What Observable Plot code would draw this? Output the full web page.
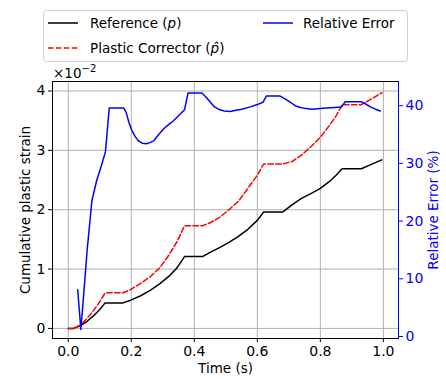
<!DOCTYPE html>
<html><head><meta charset="utf-8">
<script src="https://cdn.jsdelivr.net/npm/d3@7"></script>
<script src="https://cdn.jsdelivr.net/npm/@observablehq/plot@0.6"></script>
<style>
body{margin:0;background:#fff;font-family:"DejaVu Sans",sans-serif;}
#wrap{position:relative;width:446px;height:381px;overflow:hidden;}
#legend{position:absolute;left:43px;top:10px;}
#expo{position:absolute;left:50px;top:62px;}
</style></head>
<body>
<div id="wrap"></div>
<script>
// ---- data (strain values in absolute units; error in %) ----
const time = [0, 0.017, 0.04, 0.06, 0.08, 0.10, 0.117, 0.174, 0.20, 0.23, 0.26, 0.29, 0.32, 0.345, 0.369, 0.426, 0.45, 0.48, 0.51, 0.54, 0.57, 0.60, 0.62, 0.68, 0.71, 0.74, 0.77, 0.80, 0.83, 0.85, 0.869, 0.93, 0.96, 0.995];
const refStrain = [0, 0, 0.0005, 0.0012, 0.0021, 0.0032, 0.0043, 0.0043, 0.0048, 0.0055, 0.0064, 0.0075, 0.0088, 0.0102, 0.0121, 0.0121, 0.0128, 0.0136, 0.0145, 0.0155, 0.0167, 0.0182, 0.0196, 0.0196, 0.0208, 0.0219, 0.0227, 0.0236, 0.0248, 0.0258, 0.0269, 0.0269, 0.0276, 0.0284];
const corrStrain = [0, 0, 0.0006, 0.0017, 0.0030, 0.0045, 0.0060, 0.0060, 0.0066, 0.0076, 0.0087, 0.0102, 0.0124, 0.0146, 0.0173, 0.0173, 0.0178, 0.0187, 0.0200, 0.0214, 0.0236, 0.0258, 0.0277, 0.0277, 0.0281, 0.0292, 0.0306, 0.0322, 0.0343, 0.0358, 0.0377, 0.0377, 0.0386, 0.0397];
const errTime = [0.03, 0.04, 0.05, 0.06, 0.075, 0.09, 0.105, 0.118, 0.13, 0.176, 0.184, 0.193, 0.202, 0.213, 0.223, 0.235, 0.247, 0.259, 0.271, 0.287, 0.303, 0.32, 0.334, 0.352, 0.369, 0.38, 0.424, 0.437, 0.451, 0.464, 0.477, 0.495, 0.514, 0.532, 0.551, 0.578, 0.60, 0.618, 0.629, 0.671, 0.688, 0.705, 0.72, 0.737, 0.755, 0.774, 0.80, 0.821, 0.845, 0.867, 0.879, 0.929, 0.944, 0.959, 0.975, 0.99];
const relError = [8.1, 1.2, 8.0, 15.0, 23.5, 27.0, 29.6, 32.0, 39.6, 39.6, 38.8, 37.0, 35.7, 34.6, 33.9, 33.5, 33.4, 33.6, 33.9, 35.0, 36.0, 36.8, 37.4, 38.4, 39.3, 42.2, 42.2, 41.5, 40.6, 39.8, 39.4, 39.1, 39.0, 39.2, 39.4, 39.8, 40.2, 40.6, 41.7, 41.7, 41.2, 40.6, 40.0, 39.7, 39.5, 39.4, 39.5, 39.6, 39.7, 39.8, 40.7, 40.7, 40.3, 39.8, 39.4, 39.1];
const xTicks = [0, 0.2, 0.4, 0.6, 0.8, 1.0];
const yTicks = [0, 0.01, 0.02, 0.03, 0.04];
const errTicks = [0, 10, 20, 30, 40];
const labels = {x: "Time (s)", y: "Cumulative plastic strain", y2: "Relative Error (%)"};

// ---- scales ----
const xDomain = [-0.05, 1.048];
const yDomain = [-0.0017, 0.0416];
const errDomain = [-0.35, 44.2];
const toLeft = e => yDomain[0] + (e - errDomain[0]) / (errDomain[1] - errDomain[0]) * (yDomain[1] - yDomain[0]);
const fromLeft = v => errDomain[0] + (v - yDomain[0]) / (yDomain[1] - yDomain[0]) * (errDomain[1] - errDomain[0]);

const refData = time.map((t, i) => ({t, v: refStrain[i]}));
const corrData = time.map((t, i) => ({t, v: corrStrain[i]}));
const errData = errTime.map((t, i) => ({t, v: toLeft(relError[i])}));

const grid = {stroke: "#b0b0b0", strokeOpacity: 1, strokeWidth: 1};
const chart = Plot.plot({
  width: 446, height: 381,
  marginTop: 81, marginBottom: 43, marginLeft: 52, marginRight: 48,
  x: {domain: xDomain},
  y: {domain: yDomain},
  style: {fontFamily: "DejaVu Sans, sans-serif", fontSize: "14px", background: "transparent", color: "black"},
  marks: [
    Plot.gridX(xTicks, grid),
    Plot.gridY(yTicks, grid),
    Plot.line(refData, {x: "t", y: "v", stroke: "black", strokeWidth: 1.5}),
    Plot.line(corrData, {x: "t", y: "v", stroke: "red", strokeWidth: 1.5, strokeDasharray: "5.5,2.4"}),
    Plot.line(errData, {x: "t", y: "v", stroke: "blue", strokeWidth: 1.5}),
    Plot.frame({stroke: "black", strokeWidth: 1}),
    Plot.ruleX([xDomain[1]], {stroke: "blue", strokeWidth: 1}),
    Plot.axisX(xTicks, {tickFormat: d => d.toFixed(1), tickSize: 4, tickPadding: 4, label: null, fontSize: 14}),
    Plot.axisY(yTicks, {tickFormat: d => String(Math.round(d * 100)), tickSize: 4, tickPadding: 3, label: null, fontSize: 14}),
    Plot.axisY(errTicks.map(toLeft), {anchor: "right", tickFormat: d => String(Math.round(fromLeft(d))), tickSize: 4, tickPadding: 3, label: null, color: "blue", stroke: "blue", fill: "blue", fontSize: 14}),
    Plot.text([labels.y], {frameAnchor: "left", dx: -27, rotate: -90, textAnchor: "middle", lineAnchor: "middle", text: d => d, fontSize: 13.5, fill: "black"}),
    Plot.text([labels.y2], {frameAnchor: "right", dx: 35, rotate: -90, textAnchor: "middle", lineAnchor: "middle", text: d => d, fontSize: 13.5, fill: "blue"}),
    Plot.text([labels.x], {frameAnchor: "bottom", dy: 30, textAnchor: "middle", lineAnchor: "middle", text: d => d, fontSize: 13.5, fill: "black"})
  ]
});
const wrap = document.getElementById("wrap");
wrap.appendChild(chart);

// ---- legend and offset text ----
const ns = "http://www.w3.org/2000/svg";
const leg = document.createElementNS(ns, "svg");
leg.setAttribute("id", "legend");
leg.setAttribute("width", 366);
leg.setAttribute("height", 53);
leg.style.fontFamily = "DejaVu Sans, sans-serif";
leg.style.fontSize = "13.5px";
leg.innerHTML = `
<rect x="0.5" y="0.5" width="364" height="51" rx="3" fill="white" fill-opacity="0.85" stroke="#d0d0d0"/>
<line x1="5" x2="35" y1="13" y2="13" stroke="black" stroke-width="1.5"/>
<text x="47" y="13" dy="0.35em">Reference (<tspan font-style="italic">p</tspan>)</text>
<line x1="5" x2="35" y1="38" y2="38" stroke="red" stroke-width="1.5" stroke-dasharray="5.5,2.4"/>
<text x="47" y="38" dy="0.35em">Plastic Corrector (<tspan font-style="italic">p̂</tspan>)</text>
<line x1="220" x2="250" y1="13" y2="13" stroke="blue" stroke-width="1.5"/>
<text x="260" y="13" dy="0.35em">Relative Error</text>`;
wrap.appendChild(leg);

const expo = document.createElementNS(ns, "svg");
expo.setAttribute("id", "expo");
expo.setAttribute("width", 60);
expo.setAttribute("height", 18);
expo.style.fontFamily = "DejaVu Sans, sans-serif";
expo.innerHTML = `<text x="3" y="16" font-size="13.5">×10<tspan font-size="10" dy="-6">−2</tspan></text>`;
wrap.appendChild(expo);
</script>
</body></html>
